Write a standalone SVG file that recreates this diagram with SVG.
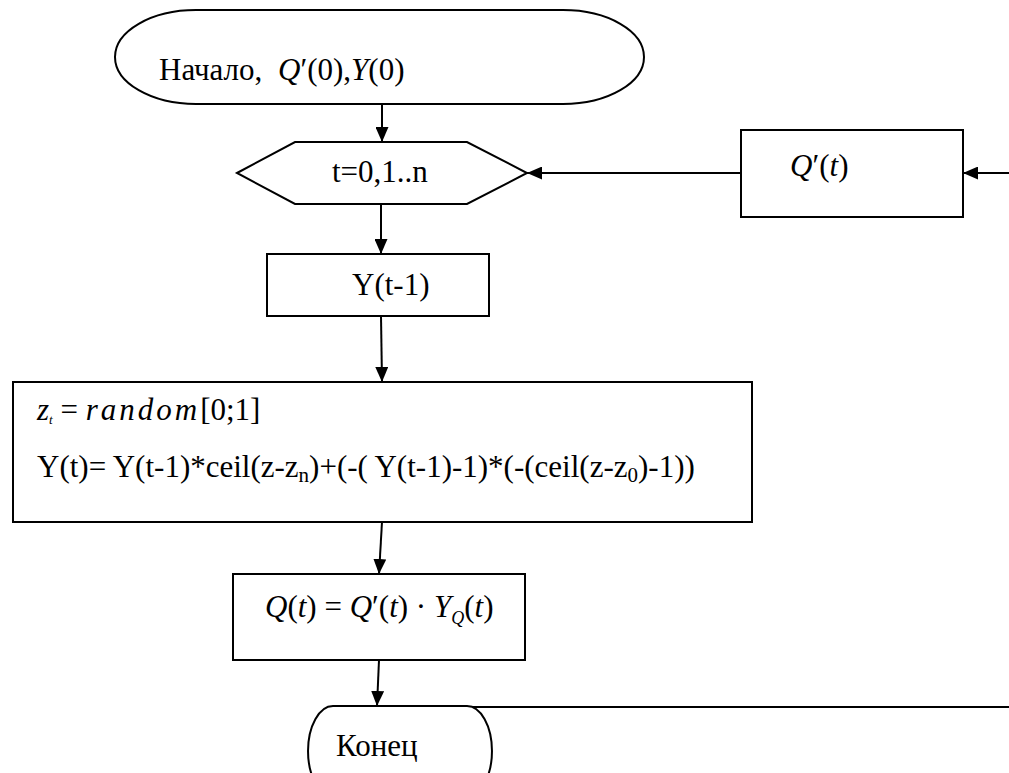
<svg xmlns="http://www.w3.org/2000/svg" width="1009" height="773" viewBox="0 0 1009 773">
<defs>
<style>
.s{fill:#fff;stroke:#000;stroke-width:2}
.c{fill:none;stroke:#000;stroke-width:2}
text{font-family:"Liberation Serif","DejaVu Serif",serif;font-size:31px;fill:#000}
.i{font-style:italic}
</style>
<marker id="ah" markerWidth="15" markerHeight="13" refX="15" refY="6.5" orient="auto" markerUnits="userSpaceOnUse">
<path d="M0,0 L15,6.5 L0,13 Z" fill="#000"/>
</marker>
</defs>
<rect width="1009" height="773" fill="#fff"/>
<g id="connectors">
<line class="c" x1="382" y1="104" x2="382" y2="142" marker-end="url(#ah)"/>
<line class="c" x1="381" y1="204" x2="381" y2="254" marker-end="url(#ah)"/>
<line class="c" x1="381" y1="316" x2="382" y2="382" marker-end="url(#ah)"/>
<line class="c" x1="382" y1="522" x2="379" y2="574" marker-end="url(#ah)"/>
<line class="c" x1="379" y1="660" x2="377" y2="706" marker-end="url(#ah)"/>
<line class="c" x1="741" y1="173" x2="527" y2="173" marker-end="url(#ah)"/>
<line class="c" x1="1009" y1="173" x2="963" y2="173" marker-end="url(#ah)"/>
<line class="c" x1="470" y1="707" x2="1009" y2="707"/>
</g>
<g id="start">
<path class="s" d="M196,10 H563 A81,47 0 0 1 563,104 H196 A81,47 0 0 1 196,10 Z"/>
<text x="159" y="80" font-family="Liberation Serif, serif" font-size="32">Начало, <tspan x="278" class="i">Q</tspan>′(0),<tspan class="i">Y</tspan>(0)</text>
</g>
<g id="loop">
<polygon class="s" points="237,173 295,142 467,142 527,173 467,204 295,204"/>
<text x="332" y="182" font-family="Liberation Serif, serif">t=0,1..n</text>
</g>
<g id="qprime">
<rect class="s" x="741" y="130" width="222" height="87"/>
<text x="790" y="176" font-family="Liberation Serif, serif"><tspan class="i">Q</tspan>′(<tspan class="i">t</tspan>)</text>
</g>
<g id="yprev">
<rect class="s" x="267" y="254" width="222" height="62"/>
<text x="352" y="295" font-family="Liberation Serif, serif">Y(t-1)</text>
</g>
<g id="calc">
<rect class="s" x="13" y="382" width="739" height="140"/>
<text x="37" y="420" font-family="Liberation Serif, serif" font-size="20"><tspan class="i">z</tspan><tspan class="i" font-size="13" dy="4">t</tspan><tspan dy="-4"> = </tspan><tspan class="i" letter-spacing="3">random</tspan>[0;1]</text>
<text x="37" y="477" font-family="Liberation Serif, serif" font-size="32">Y(t)= Y(t-1)*ceil(z-z<tspan font-size="21" dy="5">n</tspan><tspan dy="-5">)+(-( Y(t-1)-1)*(-(ceil(z-z</tspan><tspan font-size="21" dy="5">0</tspan><tspan dy="-5">)-1))</tspan></text>
</g>
<g id="qt">
<rect class="s" x="233" y="574" width="292" height="86"/>
<text x="265" y="617" font-family="Liberation Serif, serif" font-size="30"><tspan class="i">Q</tspan>(<tspan class="i">t</tspan>) = <tspan class="i">Q</tspan>′(<tspan class="i">t</tspan>) · <tspan class="i">Y</tspan><tspan class="i" font-size="18" dy="7">Q</tspan><tspan dy="-7">(</tspan><tspan class="i">t</tspan>)</text>
</g>
<g id="end">
<path class="s" d="M333,706 H467 A25,45 0 0 1 467,796 H333 A25,45 0 0 1 333,706 Z"/>
<text x="336" y="756" font-family="Liberation Serif, serif" font-size="29">Конец</text>
</g>
</svg>
